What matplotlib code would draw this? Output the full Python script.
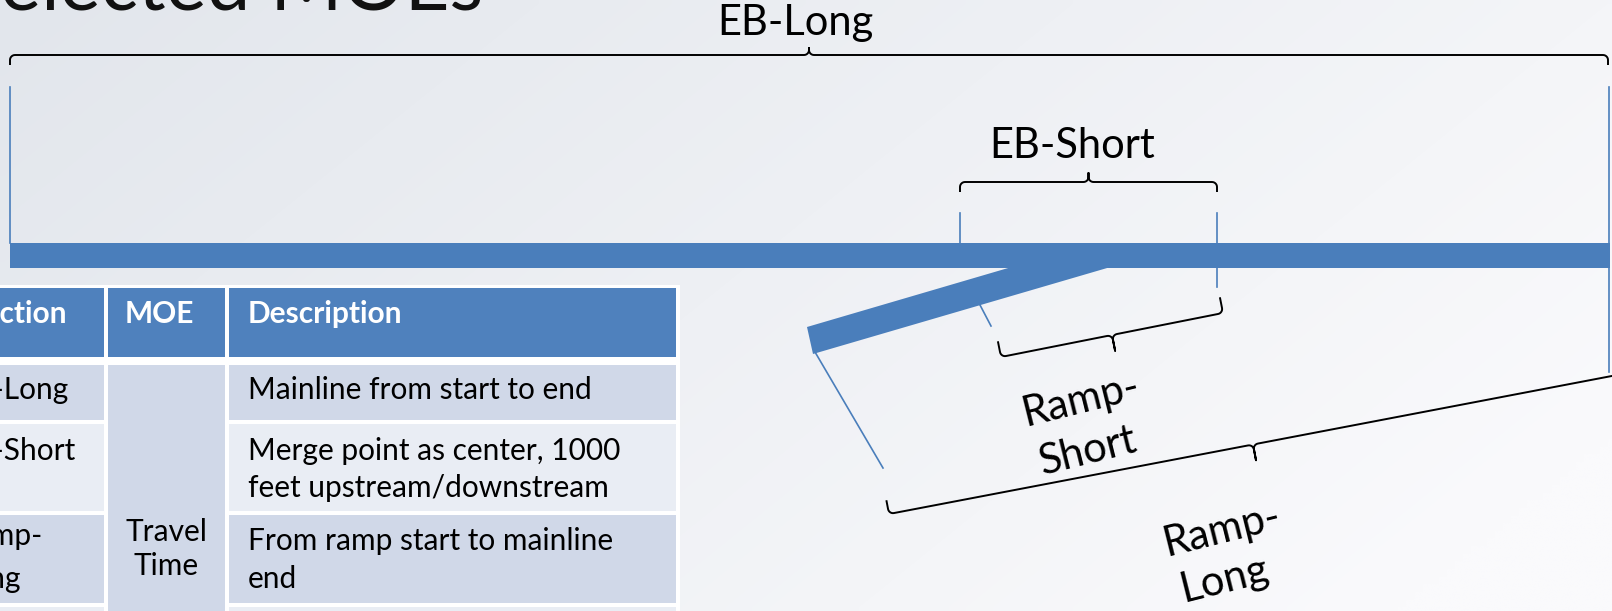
import numpy as np
import matplotlib.pyplot as plt
from matplotlib.patches import Rectangle, Polygon

plt.rcParams['font.family'] = ['Lato', 'DejaVu Sans']

W, H = 1612, 611

# Table contents
header = ["Section", "MOE", "Description"]
sections = [["EB-Long"], ["EB-Short"], ["Ramp-", "Long"], []]
moe_lines = ["Travel", "Time"]
descriptions = [["Mainline from start to end"],
                ["Merge point as center, 1000", "feet upstream/downstream"],
                ["From ramp start to mainline", "end"],
                []]

# Diagram labels
seg_labels = ["EB-Long", "EB-Short"]
ramp_labels = [["Ramp-", "Short"], ["Ramp-", "Long"]]

# layout (pixel coordinates, y grows downward)
col_edges = [(-200, 104), (108, 225), (229, 676)]
head_rows = (288, 357)
row_edges = [(365, 420), (424, 511), (515, 603), (607, 700)]
row_colors = ["#D0D8E8", "#E9EDF4", "#D0D8E8", "#E9EDF4"]
sec_y = [[390], [451], [536, 579], []]
desc_y = [[390], [451, 488], [541, 579], []]
head_color = "#4F81BD"
blue = "#4A7EBB"

fig = plt.figure(figsize=(W / 100, H / 100), dpi=100)
ax = fig.add_axes([0, 0, 1, 1])
ax.set_xlim(0, W)
ax.set_ylim(H, 0)
ax.axis('off')

# background gradient
xx, yy = np.meshgrid(np.linspace(0, 1, 200), np.linspace(0, 1, 80))
t = np.clip(0.75 * xx + 0.35 * yy, 0, 1)
c0 = np.array([226, 230, 236]) / 255
c1 = np.array([250, 250, 252]) / 255
img = c0[None, None, :] * (1 - t[..., None]) + c1[None, None, :] * t[..., None]
ax.imshow(img, extent=[0, W, H, 0], aspect='auto', zorder=0, interpolation='bilinear')

# title (cut at top)
ax.text(483, 9, "Selected MOEs", fontsize=56, ha='right', va='baseline', color='#111111', zorder=3)


def brace(p0, p1, hook, tick, n_sign=1, r=5):
    p0, p1 = np.array(p0, float), np.array(p1, float)
    L = np.linalg.norm(p1 - p0)
    u = (p1 - p0) / L
    n = np.array([u[1], -u[0]]) * n_sign
    th = np.linspace(np.pi, np.pi / 2, 8)
    half = [(0, -hook)]
    half += [(r + r * np.cos(a), -r + r * np.sin(a)) for a in th]
    th2 = np.linspace(-np.pi / 2, 0, 8)
    half += [(L / 2 - r + r * np.cos(a), r + r * np.sin(a)) for a in th2]
    half += [(L / 2, tick)]
    pts = half + [(L - a, b) for a, b in reversed(half)]
    pts = np.array([p0 + a * u + b * n for a, b in pts])
    ax.plot(pts[:, 0], pts[:, 1], color='black', lw=1.4, zorder=4, solid_capstyle='butt')


# thin blue marker lines
thin = [((10, 87), (10, 243)), ((1609, 87), (1609, 372)),
        ((960, 213), (960, 243)), ((1217, 213), (1217, 287)),
        ((815, 352), (883, 468)), ((980, 305), (991, 326))]
for a, b in thin:
    ax.plot([a[0], b[0]], [a[1], b[1]], color=blue, lw=1.2, zorder=2)

# mainline and ramp
ax.add_patch(Rectangle((10, 243), 1600, 25, color=blue, lw=0, zorder=3))
ax.add_patch(Polygon([(807, 327), (813, 354), (1114, 266), (1015, 266)], closed=True,
                     color=blue, lw=0, zorder=3))

# braces
brace((10, 55), (1608, 55), 10, 7)
brace((960, 182), (1217, 182), 10, 9)
brace((1001, 357), (1223, 313), 16, 16, n_sign=-1)
brace((889, 514), (1617, 375), 14, 16, n_sign=-1)

# labels
ax.text(795, 23, seg_labels[0], fontsize=30, ha='center', va='center', zorder=5)
ax.text(1072, 146, seg_labels[1], fontsize=30, ha='center', va='center', zorder=5)
for lines, pos in zip(ramp_labels, [[(1081, 400), (1088, 451)], [(1222, 530), (1224, 580)]]):
    for s, (x, y) in zip(lines, pos):
        ax.text(x, y, s, fontsize=30, ha='center', va='center', rotation=14,
                rotation_mode='anchor', zorder=5)

# table
ax.add_patch(Rectangle((-10, 285), 690, 340, color='white', lw=0, zorder=2))
for (x0, x1), s in zip(col_edges, header):
    ax.add_patch(Rectangle((x0, head_rows[0]), x1 - x0, head_rows[1] - head_rows[0],
                           color=head_color, lw=0, zorder=3))
head_x = [-33, 125, 248]
for x, s in zip(head_x, header):
    ax.text(x, 314, s, fontsize=21.5, fontweight='bold', color='white', ha='left',
            va='center', zorder=5)

for i, ((y0, y1), c) in enumerate(zip(row_edges, row_colors)):
    for j in (0, 2):
        x0, x1 = col_edges[j]
        ax.add_patch(Rectangle((x0, y0), x1 - x0, y1 - y0, color=c, lw=0, zorder=3))
    for s, y in zip(sections[i], sec_y[i]):
        ax.text(-44, y, s, fontsize=21.5, ha='left', va='center', color='black', zorder=5)
    for s, y in zip(descriptions[i], desc_y[i]):
        ax.text(248, y, s, fontsize=21.5, ha='left', va='center', color='black', zorder=5)

x0, x1 = col_edges[1]
ax.add_patch(Rectangle((x0, row_edges[0][0]), x1 - x0, 700 - row_edges[0][0],
                       color=row_colors[0], lw=0, zorder=3))
for s, y in zip(moe_lines, [532, 566]):
    ax.text(166, y, s, fontsize=21.5, ha='center', va='center', zorder=5)

fig.savefig('out.png', dpi=100)
